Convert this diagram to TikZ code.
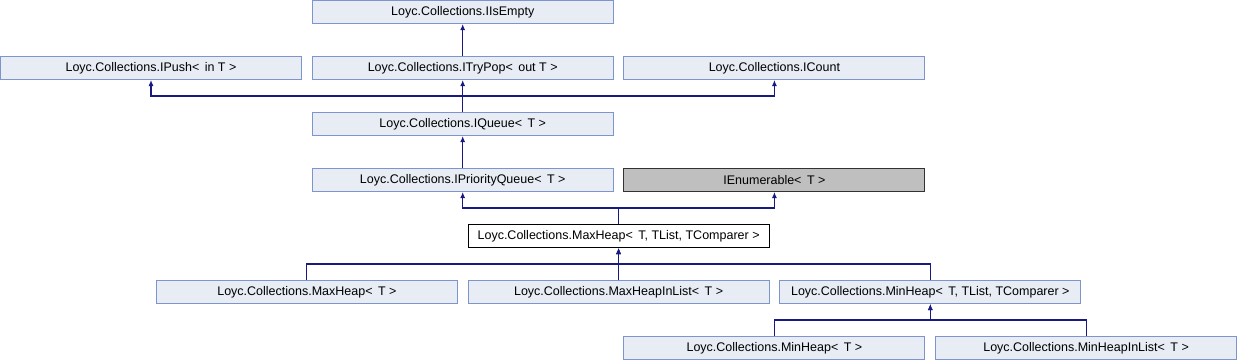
\documentclass[tikz,border=0pt]{standalone}
\usepackage{fontspec}
\setmainfont{Liberation Sans}
\usetikzlibrary{arrows.meta}
\definecolor{nodefill}{RGB}{232,236,245}
\definecolor{nodeborder}{RGB}{125,148,204}
\definecolor{edgecol}{RGB}{25,25,130}
\definecolor{extfill}{RGB}{191,191,191}
\newcommand{\lt}{<\hspace{2pt} }
\begin{document}
\begin{tikzpicture}[x=1pt,y=-1pt,
  cls/.style={draw=nodeborder,fill=nodefill,line width=1pt,minimum width=301pt,minimum height=23pt,inner sep=0pt,font=\fontsize{12.5}{14}\selectfont},
  mainc/.style={cls,draw=black,fill=white},
  extc/.style={cls,draw=black!80,fill=extfill},
  arr/.style={draw=edgecol,line width=1.1pt,-{Latex[length=6pt,width=5pt]}}]
\useasboundingbox (0,0) rectangle (1238,360);
\node[cls] (isempty) at (462.7,12) {Loyc.Collections.IIsEmpty};
\node[cls] (ipush) at (151,68) {Loyc.Collections.IPush\lt in T >};
\node[cls] (itrypop) at (462.7,68) {Loyc.Collections.ITryPop\lt out T >};
\node[cls] (icount) at (774.4,68) {Loyc.Collections.ICount};
\node[cls] (iqueue) at (462.7,124) {Loyc.Collections.IQueue\lt T >};
\node[cls] (iprio) at (462.7,180) {Loyc.Collections.IPriorityQueue\lt T >};
\node[extc] (ienum) at (774.4,180) {IEnumerable\lt T >};
\node[mainc] (maxg) at (618.6,236) {Loyc.Collections.MaxHeap\lt T, TList, TComparer >};
\node[cls] (maxt) at (306.9,292) {Loyc.Collections.MaxHeap\lt T >};
\node[cls] (maxlist) at (618.6,292) {Loyc.Collections.MaxHeapInList\lt T >};
\node[cls] (ming) at (930.3,292) {Loyc.Collections.MinHeap\lt T, TList, TComparer >};
\node[cls] (mint) at (774.4,348) {Loyc.Collections.MinHeap\lt T >};
\node[cls] (minlist) at (1086.1,348) {Loyc.Collections.MinHeapInList\lt T >};
\draw[arr] (itrypop.north) -- (isempty.south);
\draw[arr] (iqueue.north) -- ++(0,-16) -| (ipush.south);
\draw[arr] (iqueue.north) -- (itrypop.south);
\draw[arr] (iqueue.north) -- ++(0,-16) -| (icount.south);
\draw[arr] (iprio.north) -- (iqueue.south);
\draw[arr] (maxg.north) -- ++(0,-16) -| (iprio.south);
\draw[arr] (maxg.north) -- ++(0,-16) -| (ienum.south);
\draw[arr] (maxt.north) -- ++(0,-16) -| (maxg.south);
\draw[arr] (maxlist.north) -- (maxg.south);
\draw[arr] (ming.north) -- ++(0,-16) -| (maxg.south);
\draw[arr] (mint.north) -- ++(0,-16) -| (ming.south);
\draw[arr] (minlist.north) -- ++(0,-16) -| (ming.south);
\end{tikzpicture}
\end{document}
